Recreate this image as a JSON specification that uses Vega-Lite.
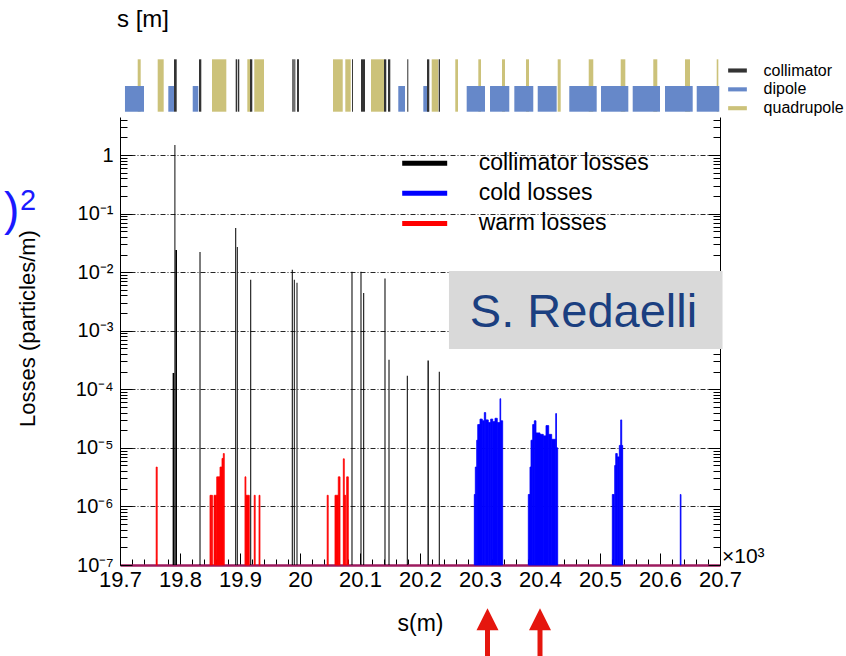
{
  "$schema": "https://vega.github.io/schema/vega-lite/v6.json",
  "width": 600,
  "height": 448,
  "autosize": {"type": "none"},
  "padding": {"left": 120, "top": 117, "right": 126, "bottom": 91},
  "background": "white",
  "config": {"view": {"stroke": null}, "font": "Liberation Sans"},
  "datasets": {
    "lattice": [
      {"s0": 19.7295, "s1": 19.7345, "type": "quadrupole"},
      {"s0": 19.7628, "s1": 19.7728, "type": "quadrupole"},
      {"s0": 19.8533, "s1": 19.8772, "type": "quadrupole"},
      {"s0": 19.9122, "s1": 19.9183, "type": "quadrupole"},
      {"s0": 19.9238, "s1": 19.94, "type": "quadrupole"},
      {"s0": 20.055, "s1": 20.0712, "type": "quadrupole"},
      {"s0": 20.0755, "s1": 20.0845, "type": "quadrupole"},
      {"s0": 20.1183, "s1": 20.14, "type": "quadrupole"},
      {"s0": 20.2195, "s1": 20.2305, "type": "quadrupole"},
      {"s0": 20.2588, "s1": 20.2633, "type": "quadrupole"},
      {"s0": 20.2972, "s1": 20.3017, "type": "quadrupole"},
      {"s0": 20.3367, "s1": 20.3417, "type": "quadrupole"},
      {"s0": 20.3767, "s1": 20.3817, "type": "quadrupole"},
      {"s0": 20.4295, "s1": 20.4345, "type": "quadrupole"},
      {"s0": 20.4812, "s1": 20.4888, "type": "quadrupole"},
      {"s0": 20.5345, "s1": 20.5422, "type": "quadrupole"},
      {"s0": 20.5888, "s1": 20.5955, "type": "quadrupole"},
      {"s0": 20.6417, "s1": 20.65, "type": "quadrupole"},
      {"s0": 20.6945, "s1": 20.6972, "type": "quadrupole"},
      {"s0": 19.7083, "s1": 19.74, "type": "dipole"},
      {"s0": 19.7805, "s1": 19.79, "type": "dipole"},
      {"s0": 19.8212, "s1": 19.8305, "type": "dipole"},
      {"s0": 20.1638, "s1": 20.175, "type": "dipole"},
      {"s0": 20.2055, "s1": 20.215, "type": "dipole"},
      {"s0": 20.2778, "s1": 20.3083, "type": "dipole"},
      {"s0": 20.3167, "s1": 20.3488, "type": "dipole"},
      {"s0": 20.3572, "s1": 20.3888, "type": "dipole"},
      {"s0": 20.3962, "s1": 20.4278, "type": "dipole"},
      {"s0": 20.4488, "s1": 20.4945, "type": "dipole"},
      {"s0": 20.5017, "s1": 20.5472, "type": "dipole"},
      {"s0": 20.5545, "s1": 20.6, "type": "dipole"},
      {"s0": 20.6083, "s1": 20.6545, "type": "dipole"},
      {"s0": 20.6612, "s1": 20.6988, "type": "dipole"},
      {"s0": 19.79, "s1": 19.7945, "type": "collimator"},
      {"s0": 19.8317, "s1": 19.8355, "type": "collimator"},
      {"s0": 19.8928, "s1": 19.895, "type": "collimator"},
      {"s0": 19.8962, "s1": 19.8988, "type": "collimator"},
      {"s0": 19.9167, "s1": 19.9205, "type": "collimator"},
      {"s0": 19.9872, "s1": 19.9895, "type": "collimator"},
      {"s0": 19.9905, "s1": 19.9922, "type": "collimator"},
      {"s0": 19.995, "s1": 19.9983, "type": "collimator"},
      {"s0": 20.0867, "s1": 20.0883, "type": "collimator"},
      {"s0": 20.1017, "s1": 20.1083, "type": "collimator"},
      {"s0": 20.14, "s1": 20.1438, "type": "collimator"},
      {"s0": 20.1467, "s1": 20.1505, "type": "collimator"},
      {"s0": 20.1788, "s1": 20.1805, "type": "collimator"},
      {"s0": 20.2117, "s1": 20.2155, "type": "collimator"},
      {"s0": 20.2312, "s1": 20.2333, "type": "collimator"}
    ],
    "losses": [
      {"s0": 19.7877, "s1": 19.7905, "v": 0.00019, "kind": "collimator losses"},
      {"s0": 19.7907, "s1": 19.7923, "v": 1.48, "kind": "collimator losses"},
      {"s0": 19.7923, "s1": 19.795, "v": 0.024, "kind": "collimator losses"},
      {"s0": 19.8325, "s1": 19.8342, "v": 0.022, "kind": "collimator losses"},
      {"s0": 19.892, "s1": 19.8937, "v": 0.057, "kind": "collimator losses"},
      {"s0": 19.8947, "s1": 19.8963, "v": 0.027, "kind": "collimator losses"},
      {"s0": 19.917, "s1": 19.9187, "v": 0.0074, "kind": "collimator losses"},
      {"s0": 19.9863, "s1": 19.988, "v": 0.011, "kind": "collimator losses"},
      {"s0": 19.9897, "s1": 19.9913, "v": 0.0074, "kind": "collimator losses"},
      {"s0": 19.9942, "s1": 19.9958, "v": 0.0066, "kind": "collimator losses"},
      {"s0": 20.0858, "s1": 20.0875, "v": 0.0102, "kind": "collimator losses"},
      {"s0": 20.1008, "s1": 20.1025, "v": 0.0102, "kind": "collimator losses"},
      {"s0": 20.1053, "s1": 20.107, "v": 0.0044, "kind": "collimator losses"},
      {"s0": 20.1408, "s1": 20.1425, "v": 0.0078, "kind": "collimator losses"},
      {"s0": 20.1475, "s1": 20.1492, "v": 0.00032, "kind": "collimator losses"},
      {"s0": 20.178, "s1": 20.1797, "v": 0.00017, "kind": "collimator losses"},
      {"s0": 20.2125, "s1": 20.2147, "v": 0.00031, "kind": "collimator losses"},
      {"s0": 20.2313, "s1": 20.233, "v": 0.0002, "kind": "collimator losses"},
      {"s0": 20.2905, "s1": 20.2922, "v": 1.6e-6, "kind": "cold losses"},
      {"s0": 20.2922, "s1": 20.2945, "v": 4.7e-6, "kind": "cold losses"},
      {"s0": 20.2945, "s1": 20.2962, "v": 1.35e-5, "kind": "cold losses"},
      {"s0": 20.2962, "s1": 20.3, "v": 2.5e-5, "kind": "cold losses"},
      {"s0": 20.3, "s1": 20.3038, "v": 3.1e-5, "kind": "cold losses"},
      {"s0": 20.3038, "s1": 20.3072, "v": 2.9e-5, "kind": "cold losses"},
      {"s0": 20.3072, "s1": 20.3095, "v": 4.0e-5, "kind": "cold losses"},
      {"s0": 20.3095, "s1": 20.3138, "v": 3.0e-5, "kind": "cold losses"},
      {"s0": 20.3138, "s1": 20.3178, "v": 2.7e-5, "kind": "cold losses"},
      {"s0": 20.3178, "s1": 20.3212, "v": 3.1e-5, "kind": "cold losses"},
      {"s0": 20.3212, "s1": 20.325, "v": 2.8e-5, "kind": "cold losses"},
      {"s0": 20.325, "s1": 20.3288, "v": 3.2e-5, "kind": "cold losses"},
      {"s0": 20.3288, "s1": 20.3333, "v": 2.7e-5, "kind": "cold losses"},
      {"s0": 20.3333, "s1": 20.3345, "v": 6.9e-5, "kind": "cold losses"},
      {"s0": 20.3345, "s1": 20.3378, "v": 2.9e-5, "kind": "cold losses"},
      {"s0": 20.3805, "s1": 20.3833, "v": 1.6e-6, "kind": "cold losses"},
      {"s0": 20.3833, "s1": 20.385, "v": 4.7e-6, "kind": "cold losses"},
      {"s0": 20.385, "s1": 20.3878, "v": 1.35e-5, "kind": "cold losses"},
      {"s0": 20.3878, "s1": 20.3905, "v": 2.5e-5, "kind": "cold losses"},
      {"s0": 20.3905, "s1": 20.3933, "v": 2.9e-5, "kind": "cold losses"},
      {"s0": 20.3933, "s1": 20.4, "v": 1.8e-5, "kind": "cold losses"},
      {"s0": 20.4, "s1": 20.4055, "v": 1.7e-5, "kind": "cold losses"},
      {"s0": 20.4055, "s1": 20.41, "v": 1.6e-5, "kind": "cold losses"},
      {"s0": 20.41, "s1": 20.4145, "v": 2.4e-5, "kind": "cold losses"},
      {"s0": 20.4145, "s1": 20.4195, "v": 1.7e-5, "kind": "cold losses"},
      {"s0": 20.4195, "s1": 20.4262, "v": 1.4e-5, "kind": "cold losses"},
      {"s0": 20.4262, "s1": 20.4275, "v": 3.85e-5, "kind": "cold losses"},
      {"s0": 20.4275, "s1": 20.4295, "v": 1.0e-5, "kind": "cold losses"},
      {"s0": 20.5205, "s1": 20.5238, "v": 1.6e-6, "kind": "cold losses"},
      {"s0": 20.5245, "s1": 20.5262, "v": 5e-6, "kind": "cold losses"},
      {"s0": 20.5262, "s1": 20.5288, "v": 8e-6, "kind": "cold losses"},
      {"s0": 20.5288, "s1": 20.5322, "v": 7e-6, "kind": "cold losses"},
      {"s0": 20.5322, "s1": 20.5345, "v": 1.1e-5, "kind": "cold losses"},
      {"s0": 20.5345, "s1": 20.5362, "v": 3.0e-5, "kind": "cold losses"},
      {"s0": 20.5362, "s1": 20.5378, "v": 1.1e-5, "kind": "cold losses"},
      {"s0": 20.6338, "s1": 20.635, "v": 1.6e-6, "kind": "cold losses"},
      {"s0": 19.7603, "s1": 19.762, "v": 4.7e-6, "kind": "warm losses"},
      {"s0": 19.85, "s1": 19.8515, "v": 1.55e-6, "kind": "warm losses"},
      {"s0": 19.852, "s1": 19.854, "v": 1.55e-6, "kind": "warm losses"},
      {"s0": 19.8567, "s1": 19.8612, "v": 1.55e-6, "kind": "warm losses"},
      {"s0": 19.8612, "s1": 19.8667, "v": 3.2e-6, "kind": "warm losses"},
      {"s0": 19.8667, "s1": 19.87, "v": 4.7e-6, "kind": "warm losses"},
      {"s0": 19.87, "s1": 19.8722, "v": 6.6e-6, "kind": "warm losses"},
      {"s0": 19.8722, "s1": 19.8738, "v": 8e-6, "kind": "warm losses"},
      {"s0": 19.9083, "s1": 19.9098, "v": 3.2e-6, "kind": "warm losses"},
      {"s0": 19.91, "s1": 19.9155, "v": 1.55e-6, "kind": "warm losses"},
      {"s0": 19.9237, "s1": 19.9253, "v": 1.55e-6, "kind": "warm losses"},
      {"s0": 19.9317, "s1": 19.9333, "v": 1.55e-6, "kind": "warm losses"},
      {"s0": 20.0453, "s1": 20.047, "v": 1.55e-6, "kind": "warm losses"},
      {"s0": 20.0583, "s1": 20.0638, "v": 1.55e-6, "kind": "warm losses"},
      {"s0": 20.0638, "s1": 20.0667, "v": 3.2e-6, "kind": "warm losses"},
      {"s0": 20.0722, "s1": 20.0738, "v": 6.5e-6, "kind": "warm losses"},
      {"s0": 20.0738, "s1": 20.0762, "v": 1.55e-6, "kind": "warm losses"},
      {"s0": 20.0778, "s1": 20.0805, "v": 3.2e-6, "kind": "warm losses"}
    ]
  },
  "layer": [
    {
      "layer": [
        {
          "data": {"name": "losses"},
          "mark": {"type": "rect", "strokeWidth": 0.8},
          "encoding": {
            "x": {"field": "s0", "type": "quantitative",
              "scale": {"domain": [19.7, 20.7], "nice": false, "zero": false},
              "axis": {"orient": "bottom",
                "values": [19.7, 19.72, 19.74, 19.76, 19.78, 19.8, 19.82, 19.84, 19.86, 19.88, 19.9, 19.92, 19.94, 19.96, 19.98, 20.0, 20.02, 20.04, 20.06, 20.08, 20.1, 20.12, 20.14, 20.16, 20.18, 20.2, 20.22, 20.24, 20.26, 20.28, 20.3, 20.32, 20.34, 20.36, 20.38, 20.4, 20.42, 20.44, 20.46, 20.48, 20.5, 20.52, 20.54, 20.56, 20.58, 20.6, 20.62, 20.64, 20.66, 20.68, 20.7],
                "labelExpr": "abs(datum.value*10 - round(datum.value*10)) < 0.01 ? '' + (round(datum.value*10)/10) : ''",
                "labelFontSize": 22, "labelColor": "black", "labelPadding": 16, "labelOverlap": false, "labelFlush": false,
                "tickColor": "black", "tickWidth": 1,
                "tickSize": {"condition": {"test": "abs(datum.value*10 - round(datum.value*10)) < 0.01", "value": -12}, "value": -6},
                "domainColor": "#9c1a5e", "domainWidth": 2.5,
                "grid": false,
                "title": "s(m)", "titleFontSize": 23, "titleFontWeight": "normal", "titleColor": "black", "titlePadding": 16}},
            "x2": {"field": "s1"},
            "y": {"field": "v", "type": "quantitative",
              "scale": {"type": "log", "domain": [1e-7, 4.456], "nice": false},
              "axis": {"orient": "left",
                "values": [1e-7, 2e-7, 3e-7, 4e-7, 5e-7, 6e-7, 7e-7, 8e-7, 9e-7, 1e-6, 2e-6, 3e-6, 4e-6, 5e-6, 6e-6, 7e-6, 8e-6, 9e-6, 1e-5, 2e-5, 3e-5, 4e-5, 5e-5, 6e-5, 7e-5, 8e-5, 9e-5, 1e-4, 2e-4, 3e-4, 4e-4, 5e-4, 6e-4, 7e-4, 8e-4, 9e-4, 0.001, 0.002, 0.003, 0.004, 0.005, 0.006, 0.007, 0.008, 0.009, 0.01, 0.02, 0.03, 0.04, 0.05, 0.06, 0.07, 0.08, 0.09, 0.1, 0.2, 0.3, 0.4, 0.5, 0.6, 0.7, 0.8, 0.9, 1, 2, 3, 4],
                "labelExpr": "abs(log(datum.value)/LN10 - round(log(datum.value)/LN10)) < 0.001 ? ['10⁻⁷','10⁻⁶','10⁻⁵','10⁻⁴','10⁻³','10⁻²','10⁻¹','1','10'][round(log(datum.value)/LN10)+7] : ''",
                "labelFontSize": 20, "labelColor": "black", "labelPadding": 19, "labelOverlap": false, "labelFlush": false,
                "tickColor": "black", "tickWidth": 1,
                "tickSize": {"condition": {"test": "abs(log(datum.value)/LN10 - round(log(datum.value)/LN10)) < 0.001", "value": -12}, "value": -7},
                "domainColor": "black", "domainWidth": 1,
                "grid": true, "gridColor": "black", "gridWidth": 1, "gridDash": [5, 2, 1, 2],
                "gridOpacity": {"condition": {"test": "abs(log(datum.value)/LN10 - round(log(datum.value)/LN10)) < 0.001 && datum.value > 0.0000002 && datum.value < 2", "value": 0.85}, "value": 0},
                "title": "Losses (particles/m)", "titleFontSize": 22, "titleFontWeight": "normal", "titleColor": "black", "titlePadding": 36, "titleY": 211}},
            "y2": {"datum": 1e-7},
            "color": {"field": "kind", "type": "nominal",
              "scale": {"domain": ["collimator losses", "cold losses", "warm losses"], "range": ["#000000", "#0000ff", "#ff0000"]},
              "legend": {"orient": "none", "legendX": 293.2, "legendY": 34.7, "direction": "vertical", "title": null, "padding": 0,
                "symbolType": "M-2.045,-0.227H2.045V0.227H-2.045Z", "symbolSize": 484, "symbolStrokeWidth": 0, "symbolOpacity": 1,
                "labelFontSize": 23, "labelColor": "black", "labelOffset": 42.5, "rowPadding": 6.1, "labelLimit": 0}},
            "stroke": {"field": "kind", "type": "nominal",
              "scale": {"domain": ["collimator losses", "cold losses", "warm losses"], "range": ["transparent", "#0000ff", "#ff0000"]},
              "legend": null}
          }
        },
        {
          "data": {"values": [{"note": "box"}]},
          "mark": {"type": "rect", "color": "#d9d9d9"},
          "encoding": {
            "x": {"datum": 20.2483, "type": "quantitative", "axis": null},
            "x2": {"datum": 20.7042},
            "y": {"datum": 0.01046, "type": "quantitative",
              "axis": {"orient": "right",
                "values": [1e-7, 2e-7, 3e-7, 4e-7, 5e-7, 6e-7, 7e-7, 8e-7, 9e-7, 1e-6, 2e-6, 3e-6, 4e-6, 5e-6, 6e-6, 7e-6, 8e-6, 9e-6, 1e-5, 2e-5, 3e-5, 4e-5, 5e-5, 6e-5, 7e-5, 8e-5, 9e-5, 1e-4, 2e-4, 3e-4, 4e-4, 5e-4, 6e-4, 7e-4, 8e-4, 9e-4, 0.001, 0.002, 0.003, 0.004, 0.005, 0.006, 0.007, 0.008, 0.009, 0.01, 0.02, 0.03, 0.04, 0.05, 0.06, 0.07, 0.08, 0.09, 0.1, 0.2, 0.3, 0.4, 0.5, 0.6, 0.7, 0.8, 0.9, 1, 2, 3, 4],
                "labels": false, "grid": false, "title": null,
                "tickColor": "black", "tickWidth": 1,
                "tickSize": {"condition": {"test": "abs(log(datum.value)/LN10 - round(log(datum.value)/LN10)) < 0.001", "value": -12}, "value": -7},
                "domainColor": "black", "domainWidth": 1}},
            "y2": {"datum": 0.000487}
          }
        },
        {
          "data": {"values": [{"label": "S. Redaelli"}]},
          "mark": {"type": "text", "align": "center", "baseline": "alphabetic", "fontSize": 47, "color": "#1b3f80"},
          "encoding": {
            "x": {"datum": 20.4725, "type": "quantitative", "axis": null},
            "y": {"datum": 0.00117, "type": "quantitative", "axis": null},
            "text": {"field": "label"}
          }
        },
        {
          "data": {"values": [{"label": "s [m]"}]},
          "mark": {"type": "text", "align": "left", "baseline": "alphabetic", "fontSize": 24, "color": "black"},
          "encoding": {
            "x": {"datum": 19.695, "type": "quantitative", "axis": null},
            "y": {"datum": 153, "type": "quantitative", "axis": null},
            "text": {"field": "label"}
          }
        },
        {
          "data": {"values": [{"label": "×10³"}]},
          "mark": {"type": "text", "align": "left", "baseline": "alphabetic", "fontSize": 21, "color": "black"},
          "encoding": {
            "x": {"datum": 20.7033, "type": "quantitative", "axis": null},
            "y": {"datum": 1.08e-7, "type": "quantitative", "axis": null},
            "text": {"field": "label"}
          }
        },
        {
          "data": {"values": [{"label": ")"}]},
          "mark": {"type": "text", "align": "left", "baseline": "alphabetic", "fontSize": 46, "color": "#1a1aff"},
          "encoding": {
            "x": {"datum": 19.5067, "type": "quantitative", "axis": null},
            "y": {"datum": 0.0638, "type": "quantitative", "axis": null},
            "text": {"field": "label"}
          }
        },
        {
          "data": {"values": [{"label": "2"}]},
          "mark": {"type": "text", "align": "left", "baseline": "alphabetic", "fontSize": 29, "color": "#1a1aff"},
          "encoding": {
            "x": {"datum": 19.5333, "type": "quantitative", "axis": null},
            "y": {"datum": 0.115, "type": "quantitative", "axis": null},
            "text": {"field": "label"}
          }
        },
        {
          "data": {"values": [{"s": 20.3125}, {"s": 20.4}]},
          "mark": {"type": "rule", "color": "#e5160e", "strokeWidth": 5},
          "encoding": {
            "x": {"field": "s", "type": "quantitative", "axis": null},
            "y": {"datum": 8.5e-9, "type": "quantitative", "axis": null},
            "y2": {"datum": 2.0e-9}
          }
        },
        {
          "data": {"values": [{"s": 20.3125}, {"s": 20.4}]},
          "mark": {"type": "point", "shape": "M0,-1L1,1L-1,1Z", "filled": true, "color": "#e5160e", "opacity": 1, "size": 484},
          "encoding": {
            "x": {"field": "s", "type": "quantitative", "axis": null},
            "y": {"datum": 1.19e-8, "type": "quantitative", "axis": null}
          }
        }
      ],
      "resolve": {"axis": {"x": "independent", "y": "independent"}}
    },
    {
      "data": {"name": "lattice"},
      "layer": [
        {
          "transform": [{"filter": "datum.type === 'quadrupole'"}],
          "mark": {"type": "rect"},
          "encoding": {
            "x": {"field": "s0", "type": "quantitative", "axis": null},
            "x2": {"field": "s1"},
            "y": {"datum": 0, "type": "quantitative", "scale": {"domain": [-8.651, -0.1011], "nice": false, "zero": false}, "axis": null},
            "y2": {"datum": 1},
            "color": {"field": "type", "type": "nominal",
              "scale": {"domain": ["collimator", "dipole", "quadrupole"], "range": ["#333333", "#6688c9", "#ccc27a"]},
              "legend": {"orient": "none", "legendX": 608, "legendY": -56, "direction": "vertical", "title": null, "padding": 0,
                "symbolType": "M-1,-0.22H1V0.22H-1Z", "symbolSize": 350, "symbolStrokeWidth": 0, "symbolOpacity": 1,
                "labelFontSize": 16, "labelColor": "black", "labelOffset": 16.6, "rowPadding": 0.85, "labelLimit": 0}}
          }
        },
        {
          "transform": [{"filter": "datum.type === 'dipole'"}],
          "mark": {"type": "rect"},
          "encoding": {
            "x": {"field": "s0", "type": "quantitative", "axis": null},
            "x2": {"field": "s1"},
            "y": {"datum": 0, "type": "quantitative", "axis": null},
            "y2": {"datum": 0.49},
            "color": {"field": "type", "type": "nominal", "legend": null}
          }
        },
        {
          "transform": [{"filter": "datum.type === 'collimator'"}],
          "mark": {"type": "rect"},
          "encoding": {
            "x": {"field": "s0", "type": "quantitative", "axis": null},
            "x2": {"field": "s1"},
            "y": {"datum": 0, "type": "quantitative", "axis": null},
            "y2": {"datum": 1},
            "color": {"field": "type", "type": "nominal", "legend": null}
          }
        }
      ],
      "resolve": {"axis": {"x": "independent"}}
    }
  ],
  "resolve": {"scale": {"y": "independent", "color": "independent", "stroke": "independent"}, "axis": {"x": "independent"}}
}
